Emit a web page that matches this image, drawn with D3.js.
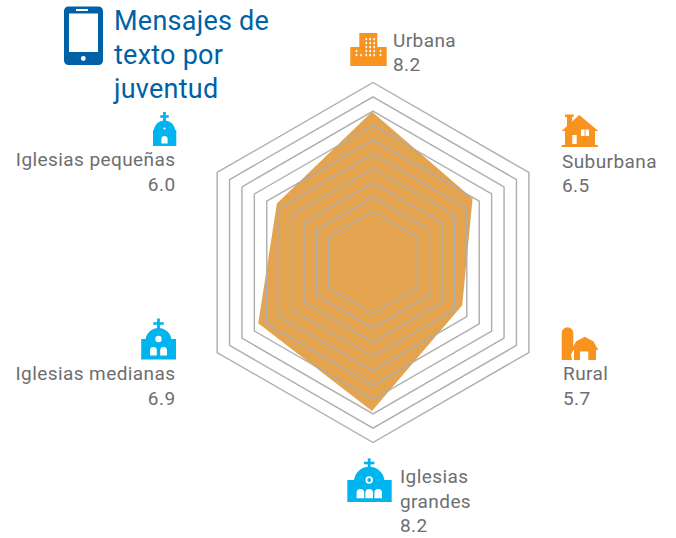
<!DOCTYPE html>
<html>
<head>
<meta charset="utf-8">
<script src="https://cdn.jsdelivr.net/npm/d3@7"></script>
<style>
    html, body { margin: 0; padding: 0; background: #fff; }
    svg { display: block; }
    text { font-family: Roboto, sans-serif; }
</style>
</head>
<body>
<svg id="chart" width="676" height="538"></svg>
<script>
var categories = ["Urbana", "Suburbana", "Rural", "Iglesias grandes", "Iglesias medianas", "Iglesias pequeñas"];
// numbers printed next to each corner
var printedValues = ["8.2", "6.5", "5.7", "8.2", "6.9", "6.0"];
// the shape is hand drawn in the original, so read it off the picture: reach and bearing of each corner
var drawnValues = [8.2, 6.5, 5.5, 8.2, 7.1, 6.1];
var drawnBearings = [0, 58, 116, 180, 241.4, 301.3];
var ringLevels = [1, 2, 3, 4, 5, 6, 7, 8, 9, 10];
var ringBearings = [0, 60, 120, 180, 240, 300];
var titleLines = ["Mensajes de", "texto por", "juventud"];

var ORANGE = "#f7931e", BLUE = "#00b5ef", NAVY = "#0061a6", GREY = "#6d6e71";

var svg = d3.select("#chart");

var ringScale = d3.scaleLinear().domain([1, 10]).range([51, 180]);
var valueScale = d3.scaleLinear().domain([0, 10]).range([0, 182.5]);
var rad = d3.scaleLinear().domain([0, 360]).range([0, 2 * Math.PI]);

var radar = d3.lineRadial().curve(d3.curveLinearClosed);

// filled shape first, the rings sit on top of it
svg.append("path")
    .attr("transform", "translate(372,261.3)")
    .attr("fill", "#e3a34f")
    .attr("d", radar(drawnValues.map(function(v, i) {
        return [rad(drawnBearings[i]), valueScale(v)];
    })));

svg.append("g")
    .attr("transform", "translate(373,262.5)")
    .selectAll("path")
    .data(ringLevels)
    .enter().append("path")
    .attr("fill", "none")
    .attr("stroke", "#adadad")
    .attr("stroke-width", 1.4)
    .attr("d", function(level) {
        return radar(ringBearings.map(function(b) { return [rad(b), ringScale(level)]; }));
    });

// title
var title = svg.append("text")
    .attr("fill", NAVY)
    .attr("font-size", 27)
    .attr("letter-spacing", 0.25);
title.selectAll("tspan")
    .data(titleLines)
    .enter().append("tspan")
    .attr("x", 114)
    .attr("y", function(d, i) { return 30 + i * 34; })
    .text(function(d) { return d; });

// corner labels: lines, anchor, x and baselines
var labelLayout = [
    { lines: [categories[0], printedValues[0]], anchor: "start", x: 393, y: [47, 71] },
    { lines: [categories[1], printedValues[1]], anchor: "start", x: 562, y: [168, 192] },
    { lines: [categories[2], printedValues[2]], anchor: "start", x: 563, y: [380, 405] },
    { lines: ["Iglesias", "grandes", printedValues[3]], anchor: "start", x: 400, y: [483, 508, 532] },
    { lines: [categories[4], printedValues[4]], anchor: "end", x: 175.5, y: [380, 405] },
    { lines: [categories[5], printedValues[5]], anchor: "end", x: 175.5, y: [166, 191] }
];

labelLayout.forEach(function(l) {
    var t = svg.append("text")
        .attr("fill", GREY)
        .attr("font-size", 19)
        .attr("letter-spacing", 0.42)
        .attr("text-anchor", l.anchor);
    l.lines.forEach(function(line, i) {
        t.append("tspan").attr("x", l.x).attr("y", l.y[i]).text(line);
    });
});

// icons
function icon(color, d) {
    svg.append("path").attr("fill", color).attr("d", d);
}

function rrect(x, y, w, h, r) {
    var p = d3.path();
    p.moveTo(x + r, y);
    p.arcTo(x + w, y, x + w, y + h, r);
    p.arcTo(x + w, y + h, x, y + h, r);
    p.arcTo(x, y + h, x, y, r);
    p.arcTo(x, y, x + w, y, r);
    p.closePath();
    return p.toString();
}

function circle(cx, cy, r) {
    return "M" + (cx - r) + "," + cy + "a" + r + "," + r + " 0 1,0 " + (2 * r) + ",0a" + r + "," + r + " 0 1,0 " + (-2 * r) + ",0Z";
}

function rect(x, y, w, h) {
    return "M" + x + "," + y + "h" + w + "v" + h + "h" + (-w) + "Z";
}

// door with a round head
function arch(x, top, w, bottom) {
    var r = w / 2;
    return "M" + x + "," + bottom + "V" + (top + r) + "a" + r + "," + r + " 0 0,1 " + w + ",0V" + bottom + "Z";
}

function church(cx, left, right, bodyTop, bottom, domeR, domeY, crossTop, crossBottom, armY, armW) {
    icon(BLUE, rect(left, bodyTop, right - left, bottom - bodyTop));
    icon(BLUE, circle(cx, domeY, domeR));
    icon(BLUE, rect(cx - 1.4, crossTop, 2.8, crossBottom - crossTop));
    icon(BLUE, rect(cx - armW / 2, armY - 1.3, armW, 2.6));
}

// phone
icon(NAVY, rrect(64, 6.5, 39, 58.5, 4.5));
icon("#fff", rect(69, 13.5, 29, 38.5) + rect(76, 9, 12, 2) + circle(83.3, 58.5, 2.4));

// small church
church(164.5, 153, 176.3, 130, 146, 10.6, 131, 112, 122, 116.5, 8.5);
icon("#fff", arch(161.4, 136, 6.2, 143.5) + circle(164.5, 128.5, 1.1));

// medium church
church(158.5, 141.2, 176, 339, 359.5, 13, 341, 318.5, 330, 323.5, 10.5);
icon("#fff", arch(150, 347, 6.8, 355.5) + arch(160.2, 347, 6.8, 355.5) + circle(158.5, 339, 3.2));

// large church
church(369.2, 347.3, 391.7, 480, 502, 15.3, 482, 458.3, 470, 463, 10.5);
icon("#fff", arch(356.6, 489, 7.6, 498.3) + arch(365.4, 489, 7.6, 498.3) + arch(374.4, 489, 7.6, 498.3));
icon("#fff", circle(369.2, 480, 3.7));
icon(BLUE, circle(369.2, 480, 1.9));

// city block, white windows drawn as dots along columns
icon(ORANGE, rect(359.3, 33, 18, 33));
icon(ORANGE, rect(350.3, 47, 36.4, 19));
var windowCols = [366.3, 370.2, 374.2];
var windowRows = [39, 43, 47, 51, 55];
windowCols.forEach(function(x) {
    windowRows.forEach(function(y) {
        icon("#fff", rect(x - 0.8, y - 1, 1.6, 2.2));
    });
});
[[356.5, 51], [356.5, 55], [380.5, 51], [380.5, 55], [361, 55]].forEach(function(c) {
    icon("#fff", rect(c[0] - 0.8, c[1] - 1, 1.6, 2.2));
});

// house
icon(ORANGE, "M579.3,115L598.3,131H595V145H597.8V147H561.7V145H565V131H561.7L567,126V117H565V114.5H573.6V117H572V121.5Z");
icon("#fff", rect(581, 129.5, 8, 6.4) + rect(572.3, 135, 4.4, 9));
icon(ORANGE, rect(584.6, 129.5, 0.9, 6.4));

// silo and barn
icon(ORANGE, "M561.7,360V333a5.8,5.8 0 0,1 11.6,0V350L571,354.5L572,360Z");
icon(ORANGE, "M571.5,350L576,341.5L584.8,336.8L593.5,341.5L598.3,350H596V360H588.3V351.5H580V360H574V350Z");
</script>
</body>
</html>
